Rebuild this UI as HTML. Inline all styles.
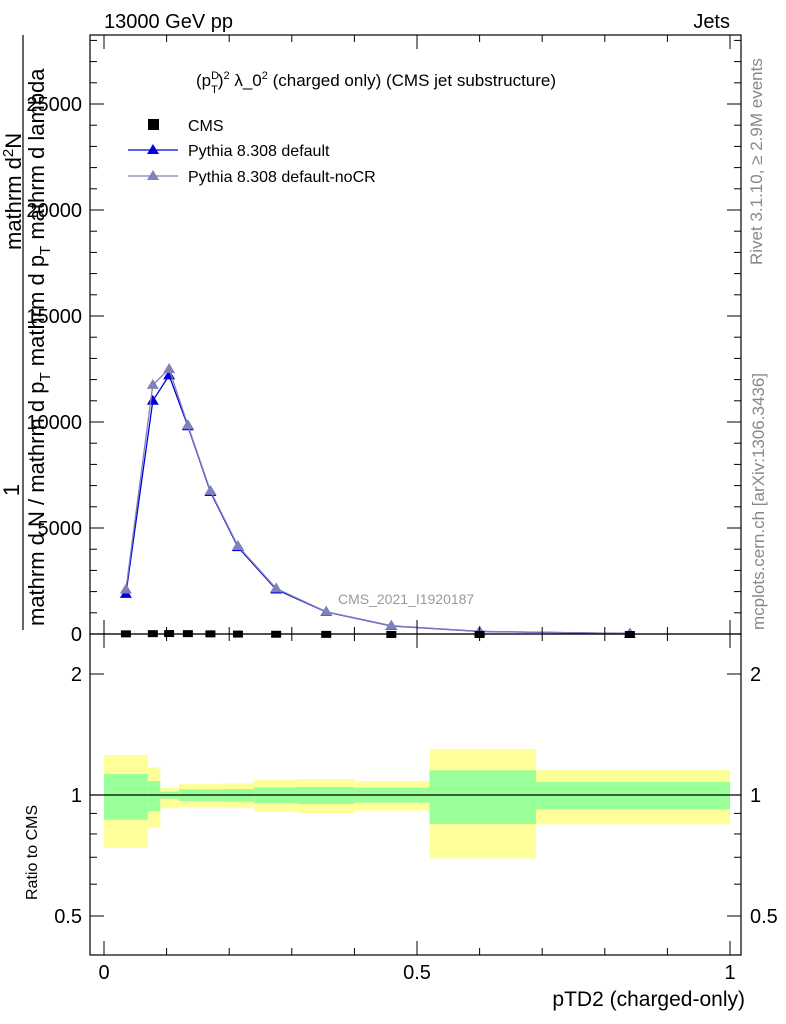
<!DOCTYPE html>
<html><head><meta charset="utf-8"><style>
html,body{margin:0;padding:0;background:#fff;}
svg{display:block;font-family:"Liberation Sans",sans-serif;}
</style></head><body>
<svg id="chart" width="786" height="1024" xmlns="http://www.w3.org/2000/svg">
<g id="bands"></g>
<g id="marks"></g>
<g id="axes"></g>
<text x="104" y="28" font-size="20">13000 GeV pp</text>
<text x="730" y="28" font-size="20" text-anchor="end">Jets</text>
<text x="196" y="86" font-size="17">(p<tspan font-size="11" dy="-7">D</tspan><tspan font-size="11" dx="-8" dy="14">T</tspan><tspan dy="-7">)</tspan><tspan font-size="11" dy="-7">2</tspan><tspan dy="7"> λ_0</tspan><tspan font-size="11" dy="-7">2</tspan><tspan dy="7"> (charged only) (CMS jet substructure)</tspan></text>
<g>
<rect x="148" y="119" width="11" height="11" fill="#000"/>
<text x="188" y="131" font-size="16">CMS</text>
<line x1="128" y1="150" x2="178" y2="150" stroke="#0000dd" stroke-width="1.2"/>
<polygon points="153,144 159,154 147,154" fill="#0000dd"/>
<text x="188" y="156" font-size="16">Pythia 8.308 default</text>
<line x1="128" y1="176" x2="178" y2="176" stroke="#8080bb" stroke-width="1.2"/>
<polygon points="153,170 159,180 147,180" fill="#8080bb"/>
<text x="188" y="182" font-size="16">Pythia 8.308 default-noCR</text>
</g>
<text x="338" y="604" font-size="14" fill="#999">CMS_2021_I1920187</text>
<text transform="translate(762,265) rotate(-90)" font-size="17" fill="#888">Rivet 3.1.10, ≥ 2.9M events</text>
<text transform="translate(764,630) rotate(-90)" font-size="17" fill="#888">mcplots.cern.ch [arXiv:1306.3436]</text>
<g>
<text transform="translate(19,490) rotate(-90)" font-size="22" text-anchor="middle">1</text>
<line x1="23" y1="35" x2="23" y2="630" stroke="#000" stroke-width="1.2"/>
<text transform="translate(44,626) rotate(-90)" font-size="22">mathrm d N / mathrm d p<tspan font-size="15" dy="6">T</tspan><tspan dy="-6"> mathrm d p</tspan><tspan font-size="15" dy="6">T</tspan><tspan dy="-6"> mathrm d lambda</tspan></text>
<text transform="translate(21,250) rotate(-90)" font-size="22">mathrm d<tspan font-size="15" dy="-8">2</tspan><tspan dy="8">N</tspan></text>
</g>
<text transform="translate(37,900) rotate(-90)" font-size="16">Ratio to CMS</text>
<text x="745" y="1006" font-size="21" text-anchor="end">pTD2 (charged-only)</text>
</svg>
<script>
const xCenters=[0.035,0.078,0.104,0.134,0.17,0.214,0.275,0.355,0.459,0.6,0.84];
const cmsValues=[30,40,45,40,30,20,12,6,2.5,0.6,0.1];
const pythiaDefault=[1890,11000,12200,9800,6700,4100,2100,1040,380,120,20];
const pythiaNoCR=[2100,11750,12500,9850,6750,4150,2150,1050,390,125,22];
const binEdges=[0,0.07,0.09,0.12,0.15,0.19,0.24,0.31,0.40,0.52,0.69,1.0];
const yellowUp=[1.258,1.172,1.041,1.065,1.065,1.069,1.090,1.096,1.083,1.302,1.154];
const yellowDn=[0.739,0.829,0.927,0.934,0.934,0.930,0.909,0.902,0.914,0.696,0.845];
const greenUp=[1.128,1.083,1.019,1.033,1.033,1.035,1.045,1.047,1.043,1.152,1.077];
const greenDn=[0.868,0.912,0.979,0.966,0.966,0.962,0.953,0.950,0.957,0.847,0.921];
const mainTicks=[0,5000,10000,15000,20000,25000];
const mainTickLabels=["0","5000","10000","15000","20000","25000"];
const ratioTicks=[0.5,1,2];
const ratioTickLabels=["0.5","1","2"];
const xTicks=[0,0.5,1];
const xTickLabels=["0","0.5","1"];

const NS="http://www.w3.org/2000/svg";
const L=90,R=741,T=35,MB=634,RB=955;
const X=v=>104+626*v;
const Y=v=>634-v*0.0212;
const YR=v=>795-121*Math.log2(v);
function mk(tag,attrs,parent){const e=document.createElementNS(NS,tag);for(const k in attrs)e.setAttribute(k,attrs[k]);parent.appendChild(e);return e;}
const bands=document.getElementById('bands'),marks=document.getElementById('marks'),axes=document.getElementById('axes');
for(let i=0;i<binEdges.length-1;i++){
 const x0=X(binEdges[i]),x1=X(binEdges[i+1]);
 const y=mk('rect',{x:x0,y:YR(yellowUp[i]),width:x1-x0,height:YR(yellowDn[i])-YR(yellowUp[i]),fill:'#ffff99'},bands);
 
 
 const g=mk('rect',{x:x0,y:YR(greenUp[i]),width:x1-x0,height:YR(greenDn[i])-YR(greenUp[i]),fill:'#99ff99'},bands);
 
 
}
const one=mk('line',{x1:L,x2:R,y1:YR(1),y2:YR(1),stroke:'#000','stroke-width':1.2},bands);


function series(vals,color,name){
 const p=mk('polyline',{points:vals.map((v,i)=>X(xCenters[i])+','+Y(v)).join(' '),fill:'none',stroke:color,'stroke-width':1.3},marks);
 
 
 vals.forEach((v,i)=>{const cx=X(xCenters[i]),cy=Y(v);
  const t=mk('polygon',{points:`${cx},${cy-6} ${cx+6},${cy+4} ${cx-6},${cy+4}`,fill:color},marks);
  
  });
}
series(pythiaDefault,'#0000dd','pythia-default');
series(pythiaNoCR,'#8080bb','pythia-nocr');
cmsValues.forEach((v,i)=>{const cx=X(xCenters[i]),cy=Y(v);
 const r=mk('rect',{x:cx-5,y:cy-3,width:10,height:7,fill:'#000'},marks);
 
 });
const f1=mk('rect',{x:L,y:T,width:R-L,height:MB-T,fill:'none',stroke:'#000','stroke-width':1.2},axes);


const f2=mk('rect',{x:L,y:MB,width:R-L,height:RB-MB,fill:'none',stroke:'#000','stroke-width':1.2},axes);


for(let v=0;v<=28000;v+=1000){const y=Y(v);if(y<T)break;const len=v%5000===0?14:7;
 mk('line',{x1:L,x2:L+len,y1:y,y2:y,stroke:'#000'},axes);mk('line',{x1:R,x2:R-len,y1:y,y2:y,stroke:'#000'},axes);}
mainTicks.forEach((v,i)=>{const t=mk('text',{x:82,y:Y(v)+7,'font-size':20,'text-anchor':'end'},axes);t.textContent=mainTickLabels[i];
 
 });
[0.4,0.5,0.6,0.7,0.8,0.9,1,2].forEach(v=>{const y=YR(v);if(y>RB)return;const len=(v===0.5||v===1||v===2)?14:7;
 mk('line',{x1:L,x2:L+len,y1:y,y2:y,stroke:'#000'},axes);mk('line',{x1:R,x2:R-len,y1:y,y2:y,stroke:'#000'},axes);});
ratioTicks.forEach((v,i)=>{
 const a=mk('text',{x:82,y:YR(v)+7,'font-size':20,'text-anchor':'end'},axes);a.textContent=ratioTickLabels[i];
 
 
 const b=mk('text',{x:750,y:YR(v)+7,'font-size':20},axes);b.textContent=ratioTickLabels[i];
 
 });
for(let k=0;k<=10;k++){const v=k/10,x=X(v);const len=k%5===0?14:7;
 [[MB,-1],[T,1],[RB,-1],[MB,1]].forEach(([y0,d])=>mk('line',{x1:x,x2:x,y1:y0,y2:y0+d*len,stroke:'#000'},axes));}
xTicks.forEach((v,i)=>{const t=mk('text',{x:X(v),y:979,'font-size':20,'text-anchor':'middle'},axes);t.textContent=xTickLabels[i];
 
 });
</script>
</body></html>
